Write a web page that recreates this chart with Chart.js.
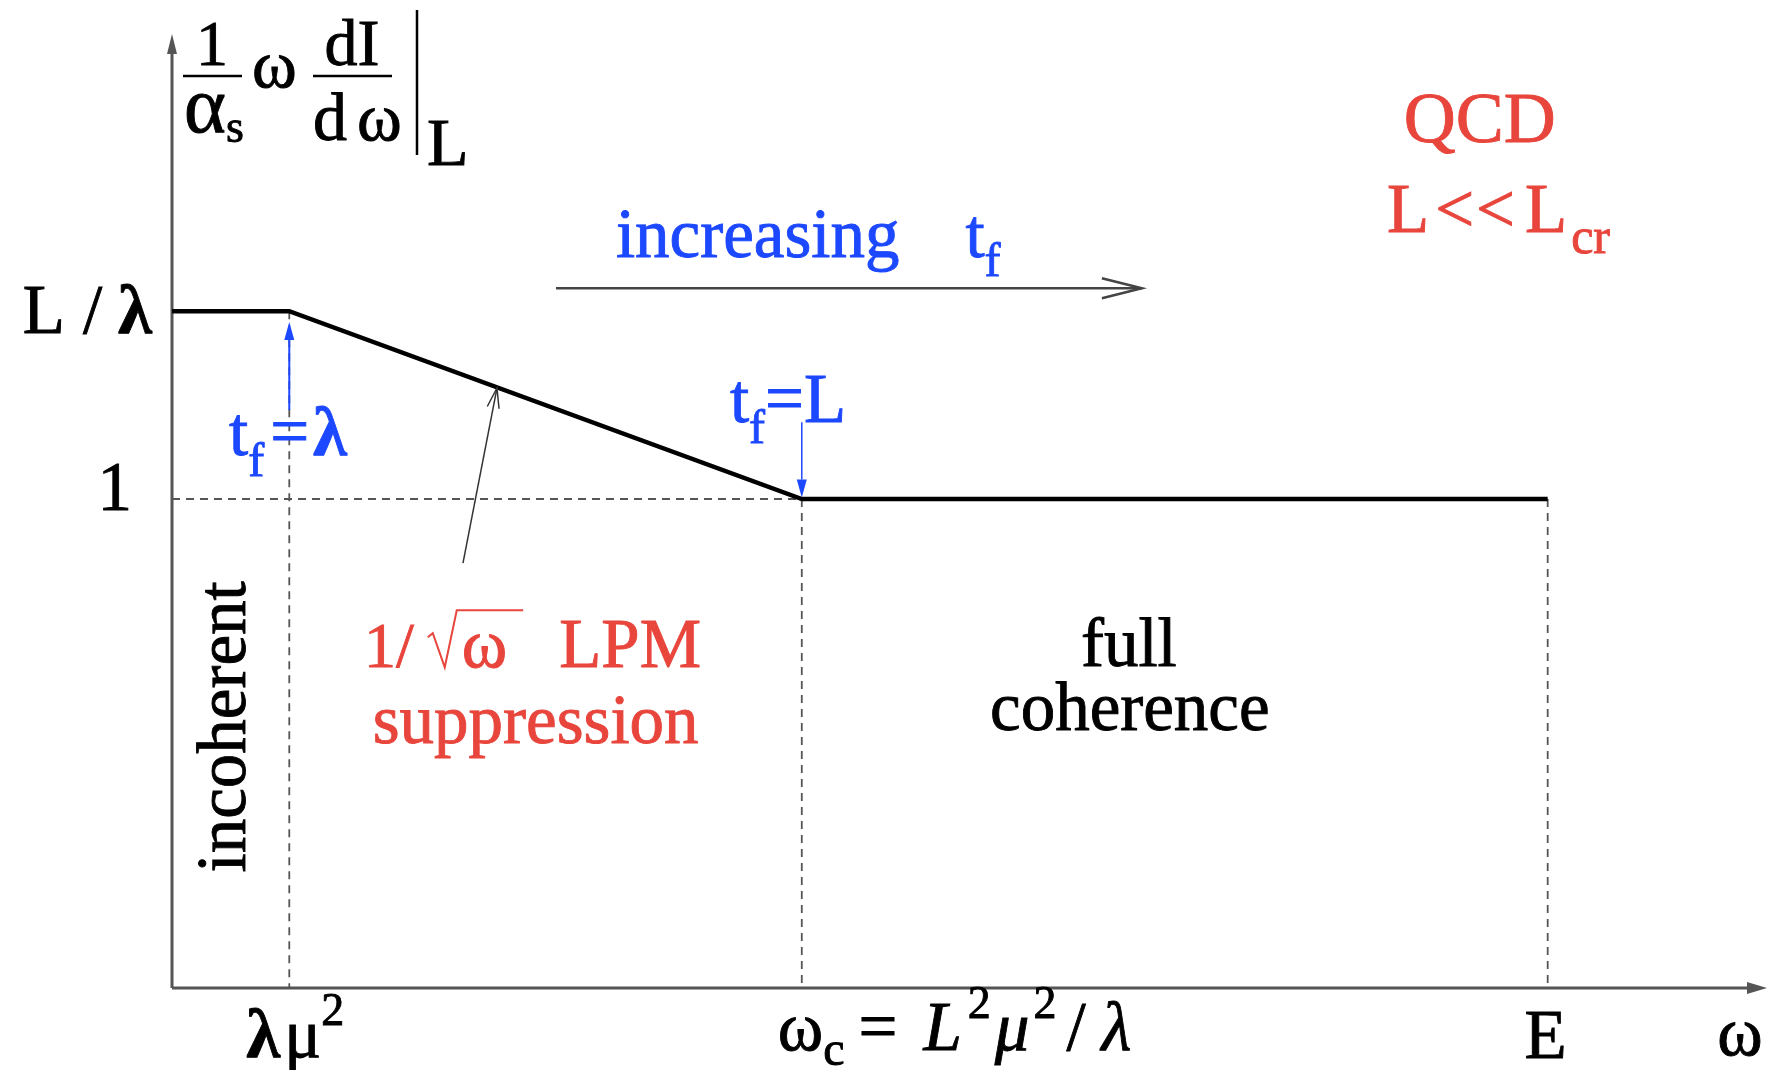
<!DOCTYPE html>
<html>
<head>
<meta charset="utf-8">
<script src="https://cdn.jsdelivr.net/npm/chart.js@4.4.1/dist/chart.umd.min.js"></script>
<style>
  html, body { margin: 0; padding: 0; background: #fff; }
</style>
</head>
<body>
<canvas id="lpmChart" width="1788" height="1070"></canvas>
<script>
// schematic units: origin, lambda*mu^2, omega_c, E
const omegaPoints = [0, 1, 5.37, 11.73];
const spectrum    = [1.384, 1.384, 1, 1];

const xTickValues = [1, 5.37, 11.73];
const xTickLabels = ['λμ²', 'ωc = L²μ²/λ', 'E'];
const yTickValues = [1.384, 1];
const yTickLabels = ['L / λ', '1'];

const BLUE = '#1c48ff';
const RED = '#e8453c';
const SERIF = '"Liberation Serif", "Times New Roman", serif';

function font(p) {
    return (p.it ? 'italic ' : '') + (p.b ? 'bold ' : '') + (p.f || 69) + 'px ' + SERIF;
}

// a run of text pieces (sub/superscripts, radicals) measured and drawn left to right
function runsWidth(ctx, parts) {
    let w = 0;
    parts.forEach(p => {
        ctx.font = font(p);
        w += (p.dx || 0) + ctx.measureText(p.t).width + (p.sqrt ? 50 : 0);
    });
    return w;
}

function drawRuns(ctx, x, y, parts, align, color) {
    const w = runsWidth(ctx, parts);
    if (align === 'center') x -= w / 2;
    if (align === 'right') x -= w;
    ctx.fillStyle = color;
    ctx.strokeStyle = color;
    ctx.textAlign = 'left';
    ctx.textBaseline = 'alphabetic';
    parts.forEach(p => {
        x += p.dx || 0;
        ctx.font = font(p);
        const tw = ctx.measureText(p.t).width;
        let tx = x;
        if (p.sqrt) {
            ctx.lineWidth = 2;
            ctx.beginPath();
            ctx.moveTo(x, y - 30);
            ctx.lineTo(x + 5, y - 34);
            ctx.lineTo(x + 17, y);
            ctx.lineTo(x + 29, y - 57);
            ctx.lineTo(x + 50 + tw, y - 57);
            ctx.stroke();
            tx = x + 34;
            x += tw + 50;
        } else {
            x += tw;
        }
        ctx.lineWidth = 0.9;
        ctx.fillText(p.t, tx, y + (p.dy || 0));
        ctx.strokeText(p.t, tx, y + (p.dy || 0));
    });
}

function arrow(ctx, x1, y1, x2, y2, o) {
    const ang = Math.atan2(y2 - y1, x2 - x1);
    const len = o.len || 16, half = o.half || 5;
    const bx = x2 - len * Math.cos(ang), by = y2 - len * Math.sin(ang);
    const nx = -Math.sin(ang) * half, ny = Math.cos(ang) * half;
    ctx.strokeStyle = o.color;
    ctx.fillStyle = o.color;
    ctx.lineWidth = o.width;
    ctx.beginPath();
    ctx.moveTo(x1, y1);
    ctx.lineTo(o.open ? x2 : bx, o.open ? y2 : by);
    ctx.stroke();
    ctx.beginPath();
    ctx.moveTo(bx + nx, by + ny);
    ctx.lineTo(x2, y2);
    ctx.lineTo(bx - nx, by - ny);
    if (o.open) {
        ctx.stroke();
    } else {
        ctx.closePath();
        ctx.fill();
    }
}

const annotations = {
    id: 'annotations',
    beforeDatasetsDraw(chart) {
        const ctx = chart.ctx, a = chart.chartArea;
        ctx.save();
        arrow(ctx, a.left, a.bottom, a.right, a.bottom, { color: '#555', width: 3, len: 20, half: 6 });
        arrow(ctx, a.left, a.bottom, a.left, a.top, { color: '#555', width: 3, len: 20, half: 5 });
        ctx.restore();
    },
    afterDatasetsDraw(chart) {
        const ctx = chart.ctx, a = chart.chartArea;
        const px = v => chart.scales.x.getPixelForValue(v);
        const py = v => chart.scales.y.getPixelForValue(v);
        ctx.save();

        // y tick labels
        drawRuns(ctx, a.left - 20, py(yTickValues[0]) + 22, [
            { t: 'L' }, { t: '/', dx: 18 }, { t: 'λ', b: true, dx: 16 }
        ], 'right', '#000');
        drawRuns(ctx, a.left - 40, py(yTickValues[1]) + 11, [{ t: yTickLabels[1] }], 'right', '#000');

        // x tick labels
        const tb = a.bottom + 69;
        drawRuns(ctx, px(xTickValues[0]) + 6, tb, [
            { t: 'λ', b: true }, { t: 'μ', dx: 4 }, { t: '2', f: 46, dy: -32, dx: 0 }
        ], 'center', '#000');
        drawRuns(ctx, px(xTickValues[1]) - 24, tb - 7, [
            { t: 'ω' }, { t: 'c', f: 48, dy: 15 }, { t: '=', dx: 14 },
            { t: 'L', it: true, dx: 26 }, { t: '2', f: 46, dy: -32, dx: 6 },
            { t: 'μ', it: true, dx: 4 }, { t: '2', f: 46, dy: -32, dx: 4 },
            { t: '/', dx: 10 }, { t: 'λ', it: true, dx: 16 }
        ], 'left', '#000');
        drawRuns(ctx, px(xTickValues[2]) - 2, tb + 1, [{ t: xTickLabels[2] }], 'center', '#000');
        drawRuns(ctx, px(13.37), tb - 2, [{ t: 'ω' }], 'center', '#000');

        // y axis title: 1/alpha_s omega dI/domega |_L
        const ox = a.left, oy = a.top;
        ctx.strokeStyle = '#000';
        ctx.lineWidth = 2.5;
        ctx.beginPath();
        ctx.moveTo(ox + 11, oy + 42); ctx.lineTo(ox + 70, oy + 42);
        ctx.moveTo(ox + 141, oy + 42); ctx.lineTo(ox + 220, oy + 42);
        ctx.moveTo(ox + 245, oy - 24); ctx.lineTo(ox + 245, oy + 121);
        ctx.stroke();
        drawRuns(ctx, ox + 40, oy + 31, [{ t: '1', f: 64 }], 'center', '#000');
        drawRuns(ctx, ox + 12, oy + 98, [{ t: 'α', f: 80 }, { t: 's', f: 46, dy: 10 }], 'left', '#000');
        drawRuns(ctx, ox + 80, oy + 53, [{ t: 'ω', f: 68 }], 'left', '#000');
        drawRuns(ctx, ox + 180, oy + 31, [{ t: 'dI', f: 66 }], 'center', '#000');
        drawRuns(ctx, ox + 141, oy + 106, [{ t: 'd', f: 68 }, { t: 'ω', f: 68, dx: 10 }], 'left', '#000');
        drawRuns(ctx, ox + 255, oy + 131, [{ t: 'L', f: 68 }], 'left', '#000');

        // formation-time arrows
        arrow(ctx, px(xTickValues[0]), py(1.182), px(xTickValues[0]), py(1.362),
            { color: BLUE, width: 2, len: 18, half: 5 });
        arrow(ctx, px(xTickValues[1]), py(1.157), px(xTickValues[1]), py(1.003),
            { color: BLUE, width: 1.5, len: 18, half: 5 });
        drawRuns(ctx, px(0.486), py(1.09), [
            { t: 't' }, { t: 'f', f: 48, dy: 21 }, { t: '=', dx: 6 }, { t: 'λ', b: true, dx: 4 }
        ], 'left', BLUE);
        drawRuns(ctx, px(4.757), py(1.157), [
            { t: 't' }, { t: 'f', f: 48, dy: 21 }, { t: '=L' }
        ], 'left', BLUE);

        // increasing t_f
        arrow(ctx, px(3.274), py(1.431), px(8.27), py(1.431),
            { color: '#444', width: 2.5, len: 40, half: 10, open: true });
        drawRuns(ctx, px(3.785), py(1.495), [
            { t: 'increasing' }, { t: 't', dx: 66 }, { t: 'f', f: 48, dy: 19 }
        ], 'left', BLUE);

        // QCD, L << L_cr
        drawRuns(ctx, px(11.15), py(1.73), [{ t: 'QCD', f: 72 }], 'center', RED);
        drawRuns(ctx, px(10.36), py(1.546), [
            { t: 'L' }, { t: '<', dx: 6 }, { t: '<', dx: 2 }, { t: 'L', dx: 10 }, { t: 'cr', f: 50, dy: 21, dx: 4 }
        ], 'left', RED);

        // LPM region
        arrow(ctx, px(2.481), py(0.869), px(2.771), py(1.227),
            { color: '#333', width: 1.5, len: 20, half: 6, open: true });
        drawRuns(ctx, px(1.637), py(0.656), [
            { t: '1/', f: 64 }, { t: 'ω', sqrt: true, dx: 14 }, { t: 'LPM', dx: 36 }
        ], 'left', RED);
        drawRuns(ctx, px(4.49), py(0.501), [{ t: 'suppression' }], 'right', RED);

        // full coherence
        drawRuns(ctx, px(8.159), py(0.658), [{ t: 'full' }], 'center', '#000');
        drawRuns(ctx, px(8.167), py(0.528), [{ t: 'coherence' }], 'center', '#000');

        // incoherent, rotated
        ctx.translate(px(0.622), py(0.534));
        ctx.rotate(-Math.PI / 2);
        drawRuns(ctx, 0, 0, [{ t: 'incoherent' }], 'center', '#000');

        ctx.restore();
    }
};

const curve = omegaPoints.map((x, i) => ({ x: x, y: spectrum[i] }));
const guideStyle = { showLine: true, borderColor: '#555', borderWidth: 1.8, borderDash: [8, 6], pointRadius: 0, clip: false };
const guides = [
    [{ x: 0, y: yTickValues[1] }, { x: xTickValues[1], y: yTickValues[1] }]
].concat(xTickValues.map(v => [
    { x: v, y: spectrum[omegaPoints.indexOf(v)] }, { x: v, y: 0 }
]));

new Chart(document.getElementById('lpmChart'), {
    type: 'scatter',
    data: {
        datasets: [{
            data: curve,
            showLine: true,
            borderColor: '#000',
            borderWidth: 4.5,
            pointRadius: 0,
            clip: false
        }].concat(guides.map(g => Object.assign({ data: g }, guideStyle)))
    },
    options: {
        responsive: false,
        animation: false,
        layout: { padding: { left: 172, right: 21, top: 34, bottom: 82 } },
        scales: {
            x: { type: 'linear', min: 0, max: 13.6, display: false },
            y: { type: 'linear', min: 0, max: 1.951, display: false }
        },
        plugins: { legend: { display: false }, tooltip: { enabled: false } }
    },
    plugins: [annotations]
});
</script>
</body>
</html>
